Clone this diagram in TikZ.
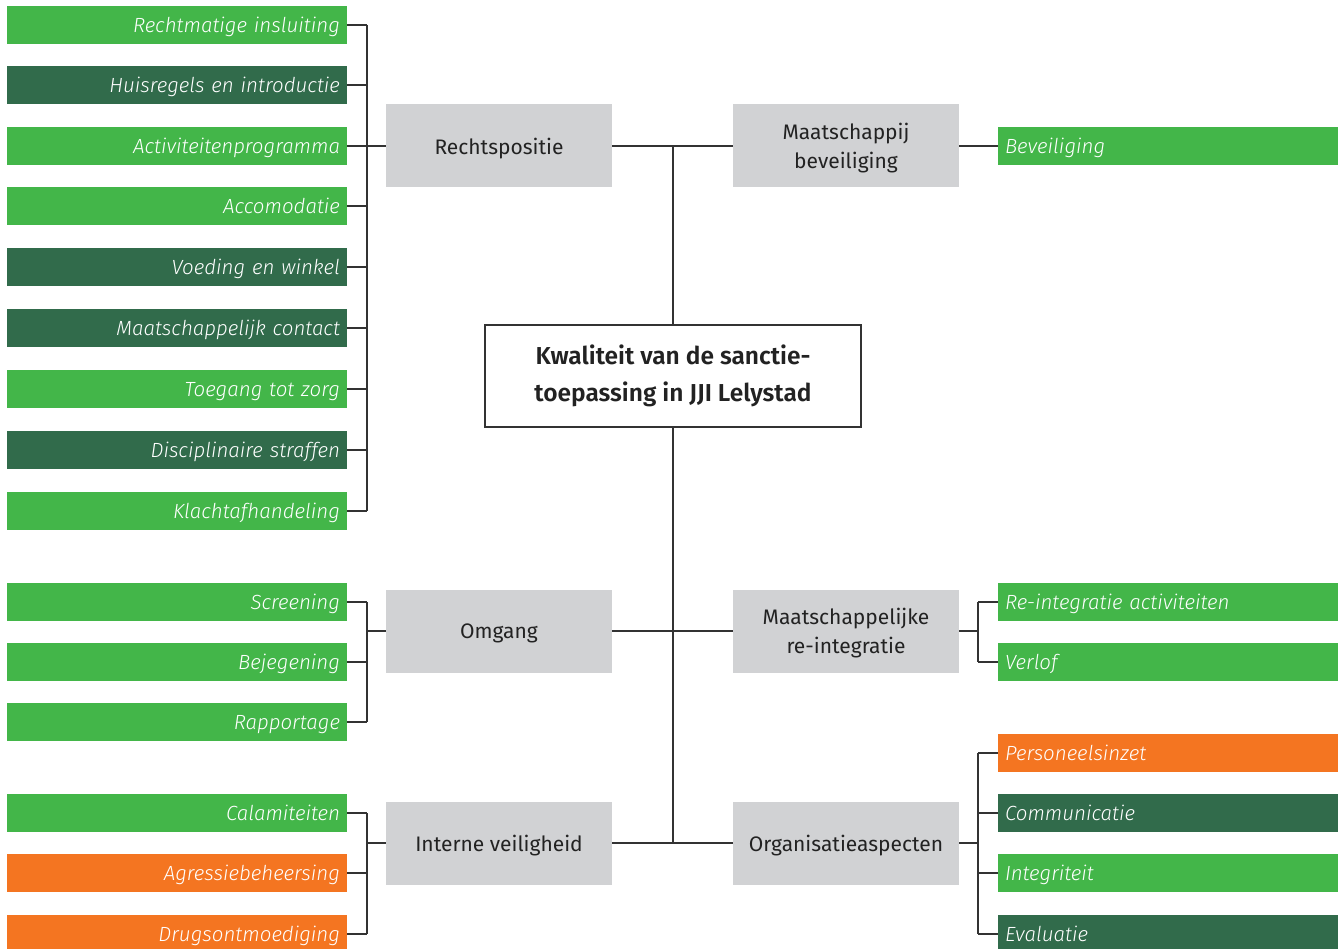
\documentclass[tikz,border=0pt]{standalone}
\usepackage{fontspec}
\setmainfont{Fira Sans}[UprightFont=* Light, ItalicFont=* Light Italic, BoldFont=* Medium]
\newfontfamily\catfont{Fira Sans}
\newfontfamily\titlefont{Fira Sans SemiBold}
\definecolor{lg}{HTML}{43B649}
\definecolor{dg}{HTML}{316B4B}
\definecolor{og}{HTML}{F47521}
\definecolor{catgray}{HTML}{D1D2D4}
\definecolor{linecol}{HTML}{333333}
\definecolor{textdark}{HTML}{222222}
\tikzset{
  leaf/.style={minimum width=340pt, minimum height=38pt, text width=326pt, text height=16.5pt, text depth=1.5pt, inner xsep=7pt, inner ysep=0pt, font=\fontsize{20.5}{24}\selectfont\itshape, text=white},
  leafL/.style={leaf, align=right},
  leafR/.style={leaf, align=left},
  cat/.style={fill=catgray, minimum width=226pt, minimum height=83pt, inner sep=0pt, text depth=0pt, align=center, font=\catfont\fontsize{21}{29}\selectfont, text=textdark},
  conn/.style={draw=linecol, line width=1.3pt},
}
\begin{document}
\begin{tikzpicture}[x=1pt, y=-1pt]
\useasboundingbox (0,0) rectangle (1343,949);
% left group 1
\node[leafL, fill=lg] (a1) at (177,25) {Rechtmatige insluiting};
\node[leafL, fill=dg] (a2) at (177,85) {Huisregels en introductie};
\node[leafL, fill=lg] (a3) at (177,146) {Activiteitenprogramma};
\node[leafL, fill=lg] (a4) at (177,206) {Accomodatie};
\node[leafL, fill=dg] (a5) at (177,267) {Voeding en winkel};
\node[leafL, fill=dg] (a6) at (177,328) {Maatschappelijk contact};
\node[leafL, fill=lg] (a7) at (177,389) {Toegang tot zorg};
\node[leafL, fill=dg] (a8) at (177,450) {Disciplinaire straffen};
\node[leafL, fill=lg] (a9) at (177,511) {Klachtafhandeling};
% left group 2
\node[leafL, fill=lg] (b1) at (177,602) {Screening};
\node[leafL, fill=lg] (b2) at (177,662) {Bejegening};
\node[leafL, fill=lg] (b3) at (177,722) {Rapportage};
% left group 3
\node[leafL, fill=lg] (c1) at (177,813) {Calamiteiten};
\node[leafL, fill=og] (c2) at (177,873) {Agressiebeheersing};
\node[leafL, fill=og] (c3) at (177,934) {Drugsontmoediging};
% right leaves
\node[leafR, fill=lg] (d1) at (1168,146) {Beveiliging};
\node[leafR, fill=lg] (e1) at (1168,602) {Re-integratie activiteiten};
\node[leafR, fill=lg] (e2) at (1168,662) {Verlof};
\node[leafR, fill=og] (f1) at (1168,753) {Personeelsinzet};
\node[leafR, fill=dg] (f2) at (1168,813) {Communicatie};
\node[leafR, fill=lg] (f3) at (1168,873) {Integriteit};
\node[leafR, fill=dg] (f4) at (1168,934) {Evaluatie};
% categories
\node[cat] (rp) at (499,146) {Rechtspositie};
\node[cat] (mb) at (846,146) {Maatschappij\\beveiliging};
\node[cat] (om) at (499,631) {Omgang};
\node[cat] (mr) at (846,631) {Maatschappelijke\\re-integratie};
\node[cat] (iv) at (499,843) {Interne veiligheid};
\node[cat] (oa) at (846,843) {Organisatieaspecten};
% centre
\node[draw=linecol, line width=1.3pt, fill=white, minimum width=376pt, minimum height=102pt, inner sep=0pt, align=center, font=\titlefont\fontsize{24.5}{37}\selectfont, text=textdark] (ctr) at (673,376) {Kwaliteit van de sanctie-\\toepassing in JJI Lelystad};
% bracket coordinates
\coordinate (bl) at (367,0);
\coordinate (br) at (978,0);
% connectors
\foreach \n in {a1,a2,a3,a4,a5,a6,a7,a8,a9,b1,b2,b3,c1,c2,c3} {\draw[conn] (\n.east) -- (\n.east -| bl);}
\foreach \n in {e1,e2,f1,f2,f3,f4} {\draw[conn] (\n.west) -- (\n.west -| br);}
\draw[conn] (a1.east -| bl) -- (a9.east -| bl);
\draw[conn] (b1.east -| bl) -- (b3.east -| bl);
\draw[conn] (c1.east -| bl) -- (c3.east -| bl);
\draw[conn] (e1.west -| br) -- (e2.west -| br);
\draw[conn] (f1.west -| br) -- (f4.west -| br);
\draw[conn] (rp.west -| bl) -- (rp.west);
\draw[conn] (om.west -| bl) -- (om.west);
\draw[conn] (iv.west -| bl) -- (iv.west);
\draw[conn] (mr.east) -- (mr.east -| br);
\draw[conn] (oa.east) -- (oa.east -| br);
\draw[conn] (mb.east) -- (d1.west);
\draw[conn] (rp.east) -- (mb.west);
\draw[conn] (om.east) -- (mr.west);
\draw[conn] (iv.east) -- (oa.west);
\draw[conn] (ctr.north) -- (ctr.north |- rp.east);
\draw[conn] (ctr.south) -- (ctr.south |- iv.east);
\end{tikzpicture}
\end{document}
